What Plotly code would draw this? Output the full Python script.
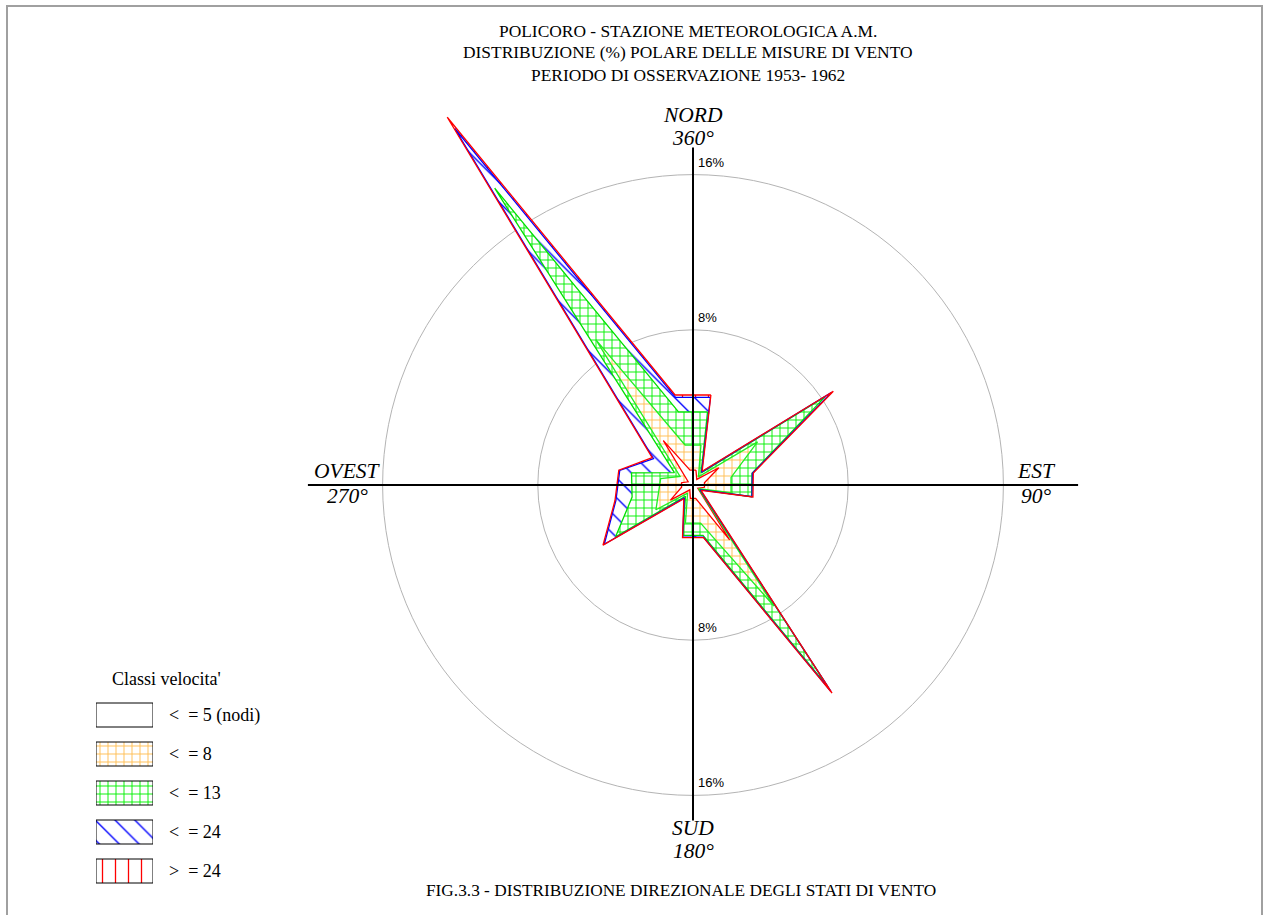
import numpy as np
import plotly.graph_objects as go

# Sector bearings (degrees clockwise from north) of the 16 plotted points
DIREZIONI = [11.25, 33.75, 56.25, 78.75, 101.25, 123.75, 146.25, 168.75,
             191.25, 213.75, 236.25, 258.75, 281.25, 303.75, 326.25, 348.75]

# Cumulative frequency (%) per speed class, by sector
FREQ_LE5 = [0.78, 0.35, 1.6, 0.6, 0.6, 0.3, 3.4, 0.7,
            0.7, 0.3, 1.4, 0.6, 0.6, 0.3, 2.75, 0.78]
FREQ_LE8 = [2.1, 0.5, 4.0, 2.0, 2.0, 0.35, 7.5, 2.0,
            2.0, 0.5, 2.3, 1.8, 1.7, 0.8, 9.0, 2.1]
FREQ_LE13 = [3.84, 0.75, 8.2, 3.1, 3.08, 0.4, 12.5, 2.65,
             2.65, 0.7, 4.8, 3.2, 3.23, 1.15, 18.4, 3.84]
FREQ_LE24 = [4.6, 0.8, 8.6, 3.12, 3.1, 0.45, 12.8, 2.74,
             2.74, 0.8, 5.5, 4.05, 3.85, 2.45, 22.1, 4.6]
FREQ_TOT = [4.73, 0.85, 8.7, 3.17, 3.15, 0.5, 12.9, 2.77,
            2.77, 0.85, 5.58, 4.1, 3.9, 2.53, 22.8, 4.73]

RING_PCT = [8, 16]
RING_LABELS = ["8%", "16%"]

CLASS_LABELS = ["<  = 5 (nodi)", "<  = 8", "<  = 13", "<  = 24", ">  = 24"]

TITLE_LINES = [
    "POLICORO - STAZIONE METEOROLOGICA A.M.",
    "DISTRIBUZIONE (%) POLARE DELLE MISURE DI VENTO",
    "PERIODO DI OSSERVAZIONE 1953- 1962",
]
CAPTION = "FIG.3.3 - DISTRIBUZIONE DIREZIONALE DEGLI STATI DI VENTO"

# ---- layout geometry ----
W, H = 1263, 915
CX, CY = 693, 485          # pixel position of the rose centre
PX_PER_PCT = 19.4

SERIF = "Liberation Serif"
SANS = "Liberation Sans"


def px(x):
    return x / W


def py(y):
    return 1 - y / H


def polar_xy(freq):
    th = np.radians(np.array(DIREZIONI + DIREZIONI[:1]))
    r = np.array(freq + freq[:1])
    return r * np.sin(th), r * np.cos(th)


fig = go.Figure()

# class styles: (values, outline colour, pattern)
classes = [
    (FREQ_TOT, "#FF0000", dict(shape="|", fgcolor="#FF0000", bgcolor="white", size=13,
                               solidity=0.1, fgopacity=1)),
    (FREQ_LE24, "#0000FF", dict(shape="\\", fgcolor="#0000FF", bgcolor="white", size=14,
                                solidity=0.1, fgopacity=1)),
    (FREQ_LE13, "#00E000", dict(shape="+", fgcolor="#00F000", bgcolor="white", size=8,
                                solidity=0.22, fgopacity=1)),
    (FREQ_LE8, "#22EE22", dict(shape="+", fgcolor="#FFBE50", bgcolor="white", size=8,
                               solidity=0.22, fgopacity=1)),
    (FREQ_LE5, "#FF0000", None),
]

# filled areas, outer class first so each inner class covers it
for vals, col, pat in classes:
    x, y = polar_xy(vals)
    kw = dict(fillpattern=pat) if pat else dict(fillcolor="white")
    fig.add_trace(go.Scatter(x=x, y=y, mode="lines", fill="toself",
                             line=dict(width=0, color=col),
                             hoverinfo="skip", showlegend=False, **kw))

# outlines on top, inner first
for vals, col, pat in reversed(classes):
    x, y = polar_xy(vals)
    fig.add_trace(go.Scatter(x=x, y=y, mode="lines",
                             line=dict(width=1.3, color=col),
                             hoverinfo="skip", showlegend=False))

shapes = []
for r in RING_PCT:
    shapes.append(dict(type="circle", xref="x", yref="y", x0=-r, y0=-r, x1=r, y1=r,
                       line=dict(color="#B4B4B4", width=1), layer="below"))

# cross axes
shapes.append(dict(type="line", xref="x", yref="y", x0=-19.85, y0=0, x1=19.85, y1=0,
                   line=dict(color="black", width=2), layer="above"))
shapes.append(dict(type="line", xref="x", yref="y", x0=0, y0=-17.3, x1=0, y1=17.4,
                   line=dict(color="black", width=2), layer="above"))

# page frame
shapes.append(dict(type="rect", xref="paper", yref="paper",
                   x0=px(7), y0=-0.01, x1=px(1262), y1=py(6),
                   line=dict(color="#A0A0A0", width=2), layer="above"))

annotations = []
for i, t in enumerate(TITLE_LINES):
    annotations.append(dict(text=t, x=px(688), y=py([31, 52, 75][i]), xref="paper", yref="paper",
                            showarrow=False, xanchor="center", yanchor="middle",
                            font=dict(family=SERIF, size=17.4, color="black")))

compass = [("NORD", "360°", 693, 115, 138), ("SUD", "180°", 693, 828, 851),
           ("OVEST", "270°", 347, 471, 496), ("EST", "90°", 1036, 471, 496)]
for name, deg, x, y1, y2 in compass:
    for t, yy in ((name, y1), (deg, y2)):
        annotations.append(dict(text=f"<i>{t}</i>", x=px(x), y=py(yy), xref="paper", yref="paper",
                                showarrow=False, xanchor="center", yanchor="middle",
                                font=dict(family=SERIF, size=21.5, color="black")))

for r, lab in zip(RING_PCT, RING_LABELS):
    for sgn in (1, -1):
        annotations.append(dict(text=lab, x=0, y=sgn * r, xref="x", yref="y",
                                showarrow=False, xanchor="left", yanchor="bottom",
                                xshift=3, yshift=3,
                                font=dict(family=SANS, size=13, color="black")))

annotations.append(dict(text="Classi velocita'", x=px(166), y=py(679), xref="paper", yref="paper",
                        showarrow=False, xanchor="center", yanchor="middle",
                        font=dict(family=SERIF, size=18, color="black")))

annotations.append(dict(text=CAPTION, x=px(681), y=py(890), xref="paper", yref="paper",
                        showarrow=False, xanchor="center", yanchor="middle",
                        font=dict(family=SERIF, size=17.3, color="black")))

# legend swatches on their own small axes (pixel units)
BOX_TOPS = [703, 742, 781, 820, 859]
BOX_H = 24
swatch_styles = [None] + [c[2] for c in reversed(classes[:-1])]
for top, lab, pat in zip(BOX_TOPS, CLASS_LABELS, swatch_styles):
    bx = [0, 1, 1, 0, 0]
    by = [top, top, top + BOX_H, top + BOX_H, top]
    kw = dict(fillpattern=pat) if pat else dict(fillcolor="white")
    fig.add_trace(go.Scatter(x=bx, y=by, xaxis="x2", yaxis="y2", mode="lines", fill="toself",
                             line=dict(color="black", width=1), hoverinfo="skip",
                             showlegend=False, **kw))
    annotations.append(dict(text=lab, x=px(167), y=py(top + BOX_H / 2), xref="paper", yref="paper",
                            showarrow=False, xanchor="left", yanchor="middle",
                            font=dict(family=SERIF, size=18, color="black")))

fig.update_layout(
    width=W, height=H, autosize=False,
    margin=dict(l=0, r=0, t=0, b=0),
    paper_bgcolor="white", plot_bgcolor="white",
    showlegend=False,
    xaxis=dict(range=[-CX / PX_PER_PCT, (W - CX) / PX_PER_PCT], domain=[0, 1],
               visible=False, fixedrange=True),
    yaxis=dict(range=[-(H - CY) / PX_PER_PCT, CY / PX_PER_PCT], domain=[0, 1],
               visible=False, fixedrange=True),
    xaxis2=dict(range=[0, 1], domain=[px(96), px(153)], anchor="y2", visible=False),
    yaxis2=dict(range=[884, 702], domain=[py(884), py(702)], anchor="x2", visible=False),
    shapes=shapes,
    annotations=annotations,
)

fig.write_html("out.html")
